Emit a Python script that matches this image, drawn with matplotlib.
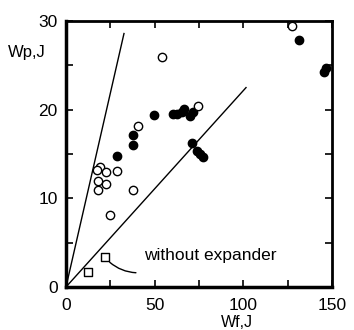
import matplotlib
matplotlib.use("Agg")
import matplotlib.pyplot as plt

plt.rcParams['font.family'] = ['Liberation Sans', 'DejaVu Sans']

# open circles (with expander)
open_x = [19.2, 17.3, 22.6, 28.9, 18.2, 22.6, 18.2, 24.8, 37.6, 40.8, 54.3, 127.3, 74.6]
open_y = [13.5, 13.2, 13.0, 13.1, 12.0, 11.6, 11.0, 8.1, 11.0, 18.2, 25.9, 29.5, 20.4]

# filled circles
fill_x = [49.6, 38.0, 37.6, 28.9, 60.5, 62.8, 65.2, 66.7, 69.9, 71.8,
          70.9, 73.7, 75.6, 77.1, 131.6, 145.5, 146.5]
fill_y = [19.4, 17.1, 16.0, 14.8, 19.5, 19.5, 19.8, 20.1, 19.3, 19.8,
          16.2, 15.4, 15.0, 14.7, 27.9, 24.3, 24.7]

# squares (without expander)
sq_x = [12.4, 22.0]
sq_y = [1.7, 3.4]

# reference lines through origin
steep_x = [0, 32.7]
steep_y = [0, 28.6]
flat_x = [0, 101.5]
flat_y = [0, 22.5]

fig = plt.figure(figsize=(3.54, 3.3), dpi=100)
ax = fig.add_axes([0.1864, 0.1303, 0.7516, 0.8057])

ax.plot(steep_x, steep_y, color='black', lw=1.0)
ax.plot(flat_x, flat_y, color='black', lw=1.0)

ax.scatter(fill_x, fill_y, s=36, color='black', zorder=3)
ax.scatter(open_x, open_y, s=36, facecolor='white', edgecolor='black', lw=1.0, zorder=4)
ax.scatter(sq_x, sq_y, s=36, marker='s', facecolor='white', edgecolor='black', lw=1.0, zorder=4)

ax.annotate('', xy=(23.5, 3.0), xytext=(41, 1.6),
            arrowprops=dict(arrowstyle='-', color='black', lw=1.0,
                            connectionstyle='arc3,rad=-0.2'))
ax.text(44, 3.6, 'without expander', fontsize=12.5, va='center', ha='left')

ax.set_xlim(0, 150)
ax.set_ylim(0, 30)
ax.set_xticks([0, 25, 50, 75, 100, 125, 150])
ax.set_xticklabels(['0', '', '50', '', '100', '', '150'])
ax.set_yticks([0, 5, 10, 15, 20, 25, 30])
ax.set_yticklabels(['0', '', '10', '', '20', '', '30'])
ax.tick_params(direction='in', length=5, width=1.2, top=True, right=True,
               labelsize=12.5)
ax.tick_params(axis='x', pad=8)
ax.tick_params(axis='y', pad=6)

for s in ax.spines.values():
    s.set_linewidth(2)
ax.spines['bottom'].set_linewidth(2.5)
ax.spines['left'].set_linewidth(2.5)

fig.text(0.668, 0.0, 'Wf,J', fontsize=11.5, ha='center', va='bottom')
fig.text(0.076, 0.84, 'Wp,J', fontsize=12, ha='center', va='center')

fig.savefig('out.png', dpi=100)
